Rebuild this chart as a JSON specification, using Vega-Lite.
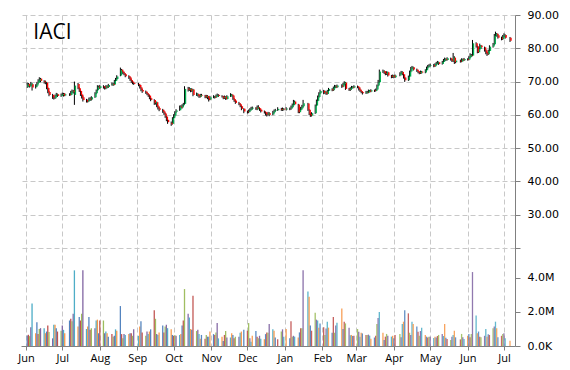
{
"$schema": "https://vega.github.io/schema/vega-lite/v6.json",
"width": 494, "height": 331,
"autosize": "none",
"padding": {"left": 21, "top": 15, "right": 55, "bottom": 24},
"background": "white",
"config": {"view": {"stroke": null}, "font": "DejaVu Sans"},
"data": {"values": [
{"date":"2014-06-02","open":68.4,"high":69.7,"low":68.1,"close":69.2,"volume":620000},
{"date":"2014-06-03","open":69.3,"high":69.6,"low":68.3,"close":68.6,"volume":660000},
{"date":"2014-06-04","open":68.5,"high":69.3,"low":68.2,"close":68.9,"volume":580000},
{"date":"2014-06-05","open":68.9,"high":69.9,"low":68.6,"close":69.4,"volume":1100000},
{"date":"2014-06-06","open":69.2,"high":69.5,"low":67.3,"close":68.2,"volume":2500000},
{"date":"2014-06-09","open":68.3,"high":69.2,"low":67.9,"close":68.8,"volume":750000},
{"date":"2014-06-10","open":68.8,"high":69.9,"low":68.5,"close":69.5,"volume":1400000},
{"date":"2014-06-11","open":69.6,"high":70.7,"low":69.3,"close":70.3,"volume":700000},
{"date":"2014-06-12","open":70.2,"high":71.3,"low":69.9,"close":70.8,"volume":1000000},
{"date":"2014-06-13","open":70.9,"high":71.1,"low":69.8,"close":70.2,"volume":1050000},
{"date":"2014-06-16","open":70.1,"high":70.4,"low":69.4,"close":69.8,"volume":1050000},
{"date":"2014-06-17","open":69.8,"high":70.3,"low":69.2,"close":69.9,"volume":750000},
{"date":"2014-06-18","open":69.7,"high":69.9,"low":67.7,"close":68.0,"volume":850000},
{"date":"2014-06-19","open":68.1,"high":68.3,"low":66.5,"close":66.8,"volume":1200000},
{"date":"2014-06-20","open":66.9,"high":67.2,"low":65.6,"close":66.0,"volume":820000},
{"date":"2014-06-23","open":66.0,"high":66.3,"low":64.8,"close":65.2,"volume":450000},
{"date":"2014-06-24","open":65.1,"high":65.6,"low":64.6,"close":65.0,"volume":1250000},
{"date":"2014-06-25","open":65.0,"high":66.1,"low":64.8,"close":65.8,"volume":1250000},
{"date":"2014-06-26","open":65.9,"high":66.6,"low":65.5,"close":66.2,"volume":1050000},
{"date":"2014-06-27","open":66.2,"high":66.4,"low":65.4,"close":65.7,"volume":850000},
{"date":"2014-06-30","open":65.7,"high":66.4,"low":65.4,"close":66.0,"volume":900000},
{"date":"2014-07-01","open":66.0,"high":66.7,"low":65.8,"close":66.3,"volume":1200000},
{"date":"2014-07-02","open":66.4,"high":66.6,"low":65.5,"close":65.8,"volume":950000},
{"date":"2014-07-03","open":65.8,"high":66.5,"low":65.6,"close":66.2,"volume":750000},
{"date":"2014-07-07","open":66.2,"high":66.5,"low":65.7,"close":66.0,"volume":1500000},
{"date":"2014-07-08","open":66.0,"high":67.2,"low":65.8,"close":66.8,"volume":1600000},
{"date":"2014-07-09","open":66.8,"high":67.6,"low":66.5,"close":67.2,"volume":1450000},
{"date":"2014-07-10","open":67.3,"high":67.5,"low":66.4,"close":66.8,"volume":1900000},
{"date":"2014-07-11","open":66.0,"high":70.0,"low":63.0,"close":68.8,"volume":4450000},
{"date":"2014-07-14","open":69.3,"high":69.6,"low":67.7,"close":68.0,"volume":1150000},
{"date":"2014-07-15","open":68.0,"high":68.3,"low":66.9,"close":67.2,"volume":1700000},
{"date":"2014-07-16","open":67.2,"high":67.4,"low":65.7,"close":66.0,"volume":1500000},
{"date":"2014-07-17","open":66.1,"high":66.3,"low":64.9,"close":65.2,"volume":1900000},
{"date":"2014-07-18","open":65.3,"high":65.8,"low":64.0,"close":64.5,"volume":4450000},
{"date":"2014-07-21","open":64.5,"high":64.8,"low":63.7,"close":64.0,"volume":1000000},
{"date":"2014-07-22","open":64.0,"high":64.6,"low":63.7,"close":64.3,"volume":1150000},
{"date":"2014-07-23","open":64.3,"high":65.2,"low":64.0,"close":64.8,"volume":1700000},
{"date":"2014-07-24","open":64.9,"high":65.3,"low":64.2,"close":64.6,"volume":950000},
{"date":"2014-07-25","open":64.6,"high":65.6,"low":64.3,"close":65.3,"volume":1050000},
{"date":"2014-07-28","open":65.3,"high":66.8,"low":65.1,"close":66.5,"volume":1050000},
{"date":"2014-07-29","open":66.5,"high":67.6,"low":66.2,"close":67.3,"volume":1500000},
{"date":"2014-07-30","open":67.4,"high":68.9,"low":67.2,"close":68.5,"volume":1550000},
{"date":"2014-07-31","open":68.5,"high":68.8,"low":67.8,"close":68.2,"volume":750000},
{"date":"2014-08-01","open":68.1,"high":69.0,"low":67.8,"close":68.6,"volume":1500000},
{"date":"2014-08-04","open":68.6,"high":68.9,"low":67.9,"close":68.3,"volume":1500000},
{"date":"2014-08-05","open":68.3,"high":68.6,"low":67.6,"close":68.0,"volume":750000},
{"date":"2014-08-06","open":68.0,"high":68.9,"low":67.7,"close":68.6,"volume":850000},
{"date":"2014-08-07","open":68.6,"high":68.9,"low":68.0,"close":68.4,"volume":750000},
{"date":"2014-08-08","open":68.4,"high":69.3,"low":68.1,"close":69.0,"volume":550000},
{"date":"2014-08-11","open":69.0,"high":69.7,"low":68.8,"close":69.3,"volume":700000},
{"date":"2014-08-12","open":69.3,"high":69.6,"low":68.7,"close":69.0,"volume":550000},
{"date":"2014-08-13","open":69.1,"high":70.5,"low":68.9,"close":70.2,"volume":600000},
{"date":"2014-08-14","open":70.2,"high":71.1,"low":70.0,"close":70.8,"volume":980000},
{"date":"2014-08-15","open":70.8,"high":71.9,"low":70.5,"close":71.5,"volume":900000},
{"date":"2014-08-18","open":71.8,"high":74.2,"low":71.6,"close":73.5,"volume":2350000},
{"date":"2014-08-19","open":73.6,"high":73.8,"low":72.6,"close":73.0,"volume":700000},
{"date":"2014-08-20","open":73.0,"high":73.3,"low":72.2,"close":72.6,"volume":450000},
{"date":"2014-08-21","open":72.6,"high":72.9,"low":71.9,"close":72.2,"volume":700000},
{"date":"2014-08-22","open":72.2,"high":72.4,"low":71.3,"close":71.6,"volume":650000},
{"date":"2014-08-25","open":71.7,"high":71.9,"low":70.8,"close":71.2,"volume":700000},
{"date":"2014-08-26","open":71.2,"high":71.4,"low":70.2,"close":70.5,"volume":750000},
{"date":"2014-08-27","open":70.5,"high":70.7,"low":69.6,"close":70.0,"volume":750000},
{"date":"2014-08-28","open":70.0,"high":70.2,"low":69.2,"close":69.6,"volume":600000},
{"date":"2014-08-29","open":69.6,"high":69.9,"low":69.0,"close":69.3,"volume":980000},
{"date":"2014-09-02","open":69.3,"high":69.6,"low":68.6,"close":69.0,"volume":600000},
{"date":"2014-09-03","open":69.0,"high":69.2,"low":67.9,"close":68.2,"volume":1150000},
{"date":"2014-09-04","open":68.2,"high":68.4,"low":67.1,"close":67.5,"volume":1450000},
{"date":"2014-09-05","open":67.5,"high":67.8,"low":66.6,"close":67.0,"volume":800000},
{"date":"2014-09-08","open":67.0,"high":67.3,"low":66.3,"close":66.6,"volume":600000},
{"date":"2014-09-09","open":66.6,"high":66.9,"low":65.9,"close":66.2,"volume":850000},
{"date":"2014-09-10","open":66.2,"high":66.4,"low":65.4,"close":65.8,"volume":700000},
{"date":"2014-09-11","open":65.8,"high":66.0,"low":64.7,"close":65.0,"volume":850000},
{"date":"2014-09-12","open":65.0,"high":65.3,"low":64.1,"close":64.5,"volume":980000},
{"date":"2014-09-15","open":64.5,"high":64.7,"low":63.0,"close":63.5,"volume":2100000},
{"date":"2014-09-16","open":63.4,"high":64.2,"low":63.1,"close":63.8,"volume":1600000},
{"date":"2014-09-17","open":63.8,"high":64.0,"low":62.3,"close":62.6,"volume":700000},
{"date":"2014-09-18","open":62.6,"high":62.9,"low":61.6,"close":62.0,"volume":650000},
{"date":"2014-09-19","open":62.0,"high":62.3,"low":61.1,"close":61.5,"volume":800000},
{"date":"2014-09-22","open":61.5,"high":61.8,"low":60.6,"close":61.0,"volume":1200000},
{"date":"2014-09-23","open":61.0,"high":61.2,"low":60.0,"close":60.4,"volume":800000},
{"date":"2014-09-24","open":60.4,"high":60.6,"low":59.1,"close":59.5,"volume":1150000},
{"date":"2014-09-25","open":59.5,"high":59.7,"low":58.1,"close":58.5,"volume":1250000},
{"date":"2014-09-26","open":58.5,"high":58.8,"low":57.3,"close":57.8,"volume":1050000},
{"date":"2014-09-29","open":57.6,"high":58.0,"low":56.7,"close":57.2,"volume":980000},
{"date":"2014-09-30","open":57.3,"high":59.3,"low":57.1,"close":59.0,"volume":650000},
{"date":"2014-10-01","open":59.0,"high":60.2,"low":58.7,"close":59.8,"volume":600000},
{"date":"2014-10-02","open":59.8,"high":61.1,"low":59.5,"close":60.8,"volume":630000},
{"date":"2014-10-03","open":60.9,"high":61.7,"low":60.6,"close":61.3,"volume":600000},
{"date":"2014-10-06","open":61.4,"high":62.8,"low":61.2,"close":62.4,"volume":650000},
{"date":"2014-10-07","open":62.5,"high":62.9,"low":61.9,"close":62.2,"volume":700000},
{"date":"2014-10-08","open":62.2,"high":63.2,"low":61.9,"close":62.8,"volume":1200000},
{"date":"2014-10-09","open":62.9,"high":63.6,"low":62.5,"close":63.2,"volume":1500000},
{"date":"2014-10-10","open":63.3,"high":68.6,"low":63.0,"close":67.8,"volume":3350000},
{"date":"2014-10-13","open":67.9,"high":68.4,"low":67.0,"close":67.5,"volume":1900000},
{"date":"2014-10-14","open":67.5,"high":68.3,"low":67.2,"close":67.9,"volume":1670000},
{"date":"2014-10-15","open":67.8,"high":68.0,"low":66.8,"close":67.2,"volume":1000000},
{"date":"2014-10-16","open":67.2,"high":68.0,"low":66.9,"close":67.6,"volume":950000},
{"date":"2014-10-17","open":67.6,"high":67.8,"low":65.6,"close":66.0,"volume":2950000},
{"date":"2014-10-20","open":66.0,"high":66.7,"low":65.7,"close":66.3,"volume":880000},
{"date":"2014-10-21","open":66.3,"high":66.5,"low":65.5,"close":65.8,"volume":950000},
{"date":"2014-10-22","open":65.8,"high":66.0,"low":65.1,"close":65.5,"volume":700000},
{"date":"2014-10-23","open":65.5,"high":66.3,"low":65.2,"close":66.0,"volume":430000},
{"date":"2014-10-24","open":66.0,"high":66.3,"low":65.5,"close":65.8,"volume":650000},
{"date":"2014-10-27","open":65.8,"high":66.0,"low":65.0,"close":65.3,"volume":420000},
{"date":"2014-10-28","open":65.3,"high":66.0,"low":65.0,"close":65.7,"volume":650000},
{"date":"2014-10-29","open":65.7,"high":65.9,"low":64.7,"close":65.0,"volume":550000},
{"date":"2014-10-30","open":65.0,"high":65.2,"low":64.0,"close":64.5,"volume":550000},
{"date":"2014-10-31","open":64.6,"high":65.7,"low":64.4,"close":65.3,"volume":850000},
{"date":"2014-11-03","open":65.3,"high":65.9,"low":65.0,"close":65.5,"volume":700000},
{"date":"2014-11-04","open":65.5,"high":65.7,"low":64.9,"close":65.2,"volume":650000},
{"date":"2014-11-05","open":65.3,"high":66.1,"low":65.1,"close":65.8,"volume":800000},
{"date":"2014-11-06","open":65.8,"high":66.4,"low":65.5,"close":66.0,"volume":1350000},
{"date":"2014-11-07","open":66.0,"high":66.2,"low":65.4,"close":65.7,"volume":450000},
{"date":"2014-11-10","open":65.7,"high":65.9,"low":65.2,"close":65.5,"volume":550000},
{"date":"2014-11-11","open":65.5,"high":65.7,"low":64.7,"close":65.0,"volume":300000},
{"date":"2014-11-12","open":65.0,"high":65.8,"low":64.8,"close":65.4,"volume":650000},
{"date":"2014-11-13","open":65.4,"high":65.6,"low":64.5,"close":64.8,"volume":880000},
{"date":"2014-11-14","open":64.8,"high":65.9,"low":64.6,"close":65.6,"volume":500000},
{"date":"2014-11-17","open":65.6,"high":66.5,"low":65.4,"close":66.1,"volume":500000},
{"date":"2014-11-18","open":66.1,"high":66.3,"low":65.5,"close":65.8,"volume":750000},
{"date":"2014-11-19","open":65.8,"high":66.0,"low":64.5,"close":64.8,"volume":650000},
{"date":"2014-11-20","open":64.8,"high":65.0,"low":63.9,"close":64.2,"volume":450000},
{"date":"2014-11-21","open":64.3,"high":64.5,"low":63.3,"close":63.6,"volume":550000},
{"date":"2014-11-24","open":63.6,"high":63.9,"low":62.9,"close":63.2,"volume":550000},
{"date":"2014-11-25","open":63.2,"high":63.4,"low":62.3,"close":62.6,"volume":780000},
{"date":"2014-11-26","open":62.6,"high":62.8,"low":61.4,"close":61.8,"volume":850000},
{"date":"2014-11-28","open":61.8,"high":62.0,"low":60.5,"close":61.0,"volume":950000},
{"date":"2014-12-01","open":61.0,"high":61.3,"low":60.4,"close":60.8,"volume":900000},
{"date":"2014-12-02","open":60.8,"high":61.6,"low":60.5,"close":61.2,"volume":1350000},
{"date":"2014-12-03","open":61.2,"high":62.0,"low":60.9,"close":61.6,"volume":450000},
{"date":"2014-12-04","open":61.6,"high":62.4,"low":61.4,"close":61.9,"volume":250000},
{"date":"2014-12-05","open":61.9,"high":62.5,"low":61.6,"close":62.1,"volume":600000},
{"date":"2014-12-08","open":62.1,"high":62.3,"low":61.5,"close":61.8,"volume":880000},
{"date":"2014-12-09","open":61.7,"high":62.8,"low":61.4,"close":62.3,"volume":550000},
{"date":"2014-12-10","open":62.3,"high":62.9,"low":61.7,"close":62.0,"volume":450000},
{"date":"2014-12-11","open":62.0,"high":62.2,"low":61.2,"close":61.5,"volume":600000},
{"date":"2014-12-12","open":61.5,"high":61.7,"low":60.7,"close":61.0,"volume":430000},
{"date":"2014-12-15","open":61.0,"high":61.3,"low":60.4,"close":60.8,"volume":400000},
{"date":"2014-12-16","open":60.8,"high":61.0,"low":59.8,"close":60.2,"volume":700000},
{"date":"2014-12-17","open":60.2,"high":60.6,"low":59.5,"close":60.0,"volume":800000},
{"date":"2014-12-18","open":60.0,"high":60.9,"low":59.8,"close":60.5,"volume":780000},
{"date":"2014-12-19","open":60.5,"high":60.8,"low":59.6,"close":60.0,"volume":1300000},
{"date":"2014-12-22","open":60.1,"high":61.2,"low":59.9,"close":60.8,"volume":980000},
{"date":"2014-12-23","open":60.8,"high":61.6,"low":60.5,"close":61.2,"volume":900000},
{"date":"2014-12-24","open":61.2,"high":61.8,"low":61.0,"close":61.4,"volume":500000},
{"date":"2014-12-26","open":61.4,"high":62.3,"low":61.2,"close":61.8,"volume":400000},
{"date":"2014-12-29","open":61.8,"high":62.1,"low":61.2,"close":61.5,"volume":850000},
{"date":"2014-12-30","open":61.5,"high":62.2,"low":61.2,"close":61.8,"volume":980000},
{"date":"2014-12-31","open":61.8,"high":62.0,"low":61.3,"close":61.6,"volume":550000},
{"date":"2015-01-02","open":61.6,"high":62.3,"low":61.3,"close":61.9,"volume":1000000},
{"date":"2015-01-05","open":61.9,"high":62.2,"low":61.4,"close":61.8,"volume":450000},
{"date":"2015-01-06","open":61.8,"high":62.8,"low":61.5,"close":62.3,"volume":1450000},
{"date":"2015-01-07","open":62.3,"high":63.4,"low":62.1,"close":63.0,"volume":550000},
{"date":"2015-01-08","open":63.0,"high":64.5,"low":62.8,"close":64.0,"volume":600000},
{"date":"2015-01-09","open":64.0,"high":64.3,"low":62.9,"close":63.2,"volume":550000},
{"date":"2015-01-12","open":63.1,"high":63.3,"low":60.5,"close":60.8,"volume":500000},
{"date":"2015-01-13","open":60.8,"high":61.9,"low":60.5,"close":61.5,"volume":800000},
{"date":"2015-01-14","open":61.5,"high":62.4,"low":61.2,"close":62.0,"volume":1050000},
{"date":"2015-01-15","open":62.0,"high":63.0,"low":61.7,"close":62.6,"volume":1050000},
{"date":"2015-01-16","open":62.6,"high":64.5,"low":62.3,"close":63.5,"volume":4450000},
{"date":"2015-01-20","open":63.4,"high":63.6,"low":61.2,"close":61.5,"volume":3200000},
{"date":"2015-01-21","open":61.5,"high":61.7,"low":59.9,"close":60.2,"volume":2900000},
{"date":"2015-01-22","open":60.2,"high":60.5,"low":59.4,"close":59.8,"volume":1200000},
{"date":"2015-01-23","open":59.8,"high":60.8,"low":59.5,"close":60.5,"volume":900000},
{"date":"2015-01-26","open":60.5,"high":63.1,"low":60.3,"close":62.8,"volume":1950000},
{"date":"2015-01-27","open":62.8,"high":64.6,"low":62.6,"close":64.2,"volume":1550000},
{"date":"2015-01-28","open":64.2,"high":65.8,"low":64.0,"close":65.4,"volume":1500000},
{"date":"2015-01-29","open":65.4,"high":66.8,"low":65.1,"close":66.5,"volume":1080000},
{"date":"2015-01-30","open":66.5,"high":67.6,"low":66.2,"close":67.2,"volume":1330000},
{"date":"2015-02-02","open":67.2,"high":67.5,"low":66.2,"close":66.6,"volume":1100000},
{"date":"2015-02-03","open":66.6,"high":67.3,"low":66.3,"close":66.9,"volume":650000},
{"date":"2015-02-04","open":66.9,"high":67.1,"low":66.0,"close":66.3,"volume":1030000},
{"date":"2015-02-05","open":66.3,"high":67.5,"low":66.1,"close":67.2,"volume":1430000},
{"date":"2015-02-06","open":67.2,"high":68.1,"low":66.9,"close":67.8,"volume":1080000},
{"date":"2015-02-09","open":67.8,"high":68.0,"low":67.1,"close":67.4,"volume":780000},
{"date":"2015-02-10","open":67.4,"high":68.5,"low":67.2,"close":68.2,"volume":1700000},
{"date":"2015-02-11","open":68.2,"high":69.0,"low":67.9,"close":68.6,"volume":780000},
{"date":"2015-02-12","open":68.6,"high":68.9,"low":68.0,"close":68.3,"volume":1200000},
{"date":"2015-02-13","open":68.3,"high":69.1,"low":68.1,"close":68.8,"volume":1370000},
{"date":"2015-02-17","open":68.8,"high":69.2,"low":68.1,"close":68.5,"volume":2200000},
{"date":"2015-02-18","open":68.5,"high":69.6,"low":68.3,"close":69.3,"volume":1000000},
{"date":"2015-02-19","open":69.3,"high":70.1,"low":69.0,"close":69.7,"volume":1430000},
{"date":"2015-02-20","open":69.7,"high":69.9,"low":67.5,"close":67.8,"volume":1330000},
{"date":"2015-02-23","open":67.8,"high":68.1,"low":67.2,"close":67.5,"volume":1080000},
{"date":"2015-02-24","open":67.5,"high":68.3,"low":67.2,"close":68.0,"volume":630000},
{"date":"2015-02-25","open":68.0,"high":68.7,"low":67.8,"close":68.4,"volume":650000},
{"date":"2015-02-26","open":68.4,"high":68.6,"low":67.9,"close":68.2,"volume":590000},
{"date":"2015-02-27","open":68.2,"high":68.9,"low":68.0,"close":68.6,"volume":610000},
{"date":"2015-03-02","open":68.6,"high":68.8,"low":68.0,"close":68.3,"volume":1000000},
{"date":"2015-03-03","open":68.3,"high":68.5,"low":67.3,"close":67.6,"volume":840000},
{"date":"2015-03-04","open":67.6,"high":67.9,"low":66.9,"close":67.2,"volume":550000},
{"date":"2015-03-05","open":67.2,"high":67.4,"low":66.5,"close":66.8,"volume":780000},
{"date":"2015-03-06","open":66.8,"high":67.0,"low":66.1,"close":66.5,"volume":740000},
{"date":"2015-03-09","open":66.5,"high":67.2,"low":66.3,"close":66.9,"volume":650000},
{"date":"2015-03-10","open":66.9,"high":67.2,"low":66.4,"close":66.7,"volume":650000},
{"date":"2015-03-11","open":66.7,"high":67.6,"low":66.5,"close":67.3,"volume":670000},
{"date":"2015-03-12","open":67.3,"high":67.5,"low":66.8,"close":67.0,"volume":610000},
{"date":"2015-03-13","open":67.0,"high":67.7,"low":66.8,"close":67.4,"volume":430000},
{"date":"2015-03-16","open":67.4,"high":67.6,"low":66.9,"close":67.2,"volume":500000},
{"date":"2015-03-17","open":67.2,"high":67.9,"low":67.0,"close":67.6,"volume":600000},
{"date":"2015-03-18","open":67.6,"high":69.1,"low":67.4,"close":68.8,"volume":1290000},
{"date":"2015-03-19","open":68.8,"high":70.5,"low":68.6,"close":69.8,"volume":1650000},
{"date":"2015-03-20","open":69.8,"high":73.6,"low":69.6,"close":73.0,"volume":2000000},
{"date":"2015-03-23","open":73.0,"high":73.6,"low":72.6,"close":73.2,"volume":780000},
{"date":"2015-03-24","open":73.2,"high":73.4,"low":72.3,"close":72.6,"volume":350000},
{"date":"2015-03-25","open":72.6,"high":72.9,"low":71.9,"close":72.3,"volume":550000},
{"date":"2015-03-26","open":72.3,"high":73.1,"low":72.0,"close":72.8,"volume":710000},
{"date":"2015-03-27","open":72.8,"high":73.0,"low":71.5,"close":71.8,"volume":610000},
{"date":"2015-03-30","open":71.8,"high":72.0,"low":71.0,"close":71.4,"volume":550000},
{"date":"2015-03-31","open":71.4,"high":72.1,"low":71.1,"close":71.8,"volume":600000},
{"date":"2015-04-01","open":71.8,"high":72.0,"low":71.0,"close":71.3,"volume":450000},
{"date":"2015-04-02","open":71.3,"high":72.1,"low":71.1,"close":71.8,"volume":650000},
{"date":"2015-04-06","open":71.8,"high":72.8,"low":71.6,"close":72.5,"volume":710000},
{"date":"2015-04-07","open":72.5,"high":73.2,"low":72.2,"close":72.9,"volume":510000},
{"date":"2015-04-08","open":72.9,"high":73.1,"low":71.9,"close":72.2,"volume":1290000},
{"date":"2015-04-09","open":72.2,"high":72.4,"low":70.9,"close":71.2,"volume":1430000},
{"date":"2015-04-10","open":71.2,"high":71.4,"low":69.9,"close":70.4,"volume":2100000},
{"date":"2015-04-13","open":70.4,"high":71.8,"low":70.2,"close":71.5,"volume":1920000},
{"date":"2015-04-14","open":71.5,"high":73.3,"low":71.3,"close":73.0,"volume":780000},
{"date":"2015-04-15","open":73.0,"high":74.4,"low":72.8,"close":74.0,"volume":650000},
{"date":"2015-04-16","open":74.0,"high":74.7,"low":73.8,"close":74.3,"volume":1430000},
{"date":"2015-04-17","open":74.3,"high":74.5,"low":73.3,"close":73.6,"volume":1290000},
{"date":"2015-04-20","open":73.6,"high":73.9,"low":72.9,"close":73.2,"volume":1140000},
{"date":"2015-04-21","open":73.2,"high":73.4,"low":72.5,"close":72.8,"volume":840000},
{"date":"2015-04-22","open":72.8,"high":73.0,"low":72.2,"close":72.5,"volume":600000},
{"date":"2015-04-23","open":72.5,"high":73.3,"low":72.3,"close":73.0,"volume":880000},
{"date":"2015-04-24","open":73.0,"high":73.2,"low":72.4,"close":72.7,"volume":1080000},
{"date":"2015-04-27","open":72.7,"high":73.7,"low":72.5,"close":73.4,"volume":650000},
{"date":"2015-04-28","open":73.4,"high":74.5,"low":73.2,"close":74.2,"volume":550000},
{"date":"2015-04-29","open":74.2,"high":75.0,"low":73.9,"close":74.6,"volume":500000},
{"date":"2015-04-30","open":74.6,"high":75.2,"low":74.3,"close":74.8,"volume":550000},
{"date":"2015-05-01","open":74.8,"high":75.4,"low":74.5,"close":75.0,"volume":550000},
{"date":"2015-05-04","open":75.0,"high":75.3,"low":74.3,"close":74.6,"volume":470000},
{"date":"2015-05-05","open":74.6,"high":75.5,"low":74.4,"close":75.2,"volume":550000},
{"date":"2015-05-06","open":75.2,"high":75.9,"low":74.9,"close":75.5,"volume":500000},
{"date":"2015-05-07","open":75.5,"high":76.2,"low":75.2,"close":75.8,"volume":590000},
{"date":"2015-05-08","open":75.8,"high":76.0,"low":75.0,"close":75.3,"volume":650000},
{"date":"2015-05-11","open":75.3,"high":76.2,"low":75.1,"close":75.9,"volume":710000},
{"date":"2015-05-12","open":75.9,"high":76.8,"low":75.6,"close":76.4,"volume":590000},
{"date":"2015-05-13","open":76.4,"high":77.2,"low":76.1,"close":76.8,"volume":1290000},
{"date":"2015-05-14","open":76.8,"high":77.0,"low":76.2,"close":76.5,"volume":490000},
{"date":"2015-05-15","open":76.5,"high":77.3,"low":76.3,"close":77.0,"volume":410000},
{"date":"2015-05-18","open":77.0,"high":77.2,"low":76.3,"close":76.6,"volume":350000},
{"date":"2015-05-19","open":76.6,"high":76.8,"low":75.9,"close":76.2,"volume":550000},
{"date":"2015-05-20","open":76.2,"high":78.6,"low":75.9,"close":77.2,"volume":650000},
{"date":"2015-05-21","open":77.2,"high":77.6,"low":75.3,"close":75.8,"volume":900000},
{"date":"2015-05-22","open":75.8,"high":76.6,"low":75.5,"close":76.3,"volume":510000},
{"date":"2015-05-26","open":76.3,"high":76.6,"low":75.7,"close":76.0,"volume":390000},
{"date":"2015-05-27","open":76.0,"high":77.0,"low":75.8,"close":76.7,"volume":710000},
{"date":"2015-05-28","open":76.7,"high":76.9,"low":76.1,"close":76.4,"volume":510000},
{"date":"2015-05-29","open":76.4,"high":77.1,"low":76.2,"close":76.8,"volume":410000},
{"date":"2015-06-01","open":76.8,"high":77.0,"low":76.3,"close":76.6,"volume":600000},
{"date":"2015-06-02","open":76.6,"high":77.6,"low":76.4,"close":77.3,"volume":710000},
{"date":"2015-06-03","open":77.3,"high":78.5,"low":77.1,"close":78.0,"volume":510000},
{"date":"2015-06-04","open":78.0,"high":78.3,"low":77.4,"close":77.8,"volume":700000},
{"date":"2015-06-05","open":77.8,"high":82.5,"low":77.6,"close":81.5,"volume":4350000},
{"date":"2015-06-08","open":81.5,"high":81.8,"low":80.2,"close":80.6,"volume":1800000},
{"date":"2015-06-09","open":80.6,"high":80.8,"low":78.5,"close":78.8,"volume":750000},
{"date":"2015-06-10","open":78.8,"high":80.2,"low":78.6,"close":79.8,"volume":850000},
{"date":"2015-06-11","open":79.8,"high":81.4,"low":79.5,"close":80.8,"volume":550000},
{"date":"2015-06-12","open":80.8,"high":81.0,"low":79.9,"close":80.3,"volume":510000},
{"date":"2015-06-15","open":80.3,"high":80.5,"low":79.0,"close":79.4,"volume":600000},
{"date":"2015-06-16","open":79.4,"high":79.7,"low":78.2,"close":78.6,"volume":1000000},
{"date":"2015-06-17","open":78.6,"high":78.9,"low":77.7,"close":78.2,"volume":550000},
{"date":"2015-06-18","open":78.2,"high":79.6,"low":78.0,"close":79.2,"volume":690000},
{"date":"2015-06-19","open":79.2,"high":80.9,"low":79.0,"close":80.5,"volume":650000},
{"date":"2015-06-22","open":80.5,"high":81.6,"low":80.2,"close":81.2,"volume":1040000},
{"date":"2015-06-23","open":81.2,"high":84.3,"low":81.0,"close":83.8,"volume":1140000},
{"date":"2015-06-24","open":83.8,"high":85.0,"low":83.5,"close":84.4,"volume":1430000},
{"date":"2015-06-25","open":84.4,"high":84.6,"low":83.5,"close":83.9,"volume":1040000},
{"date":"2015-06-26","open":83.9,"high":84.3,"low":82.9,"close":83.2,"volume":510000},
{"date":"2015-06-29","open":83.2,"high":83.5,"low":82.4,"close":82.8,"volume":600000},
{"date":"2015-06-30","open":82.8,"high":84.0,"low":82.5,"close":83.6,"volume":710000},
{"date":"2015-07-01","open":83.6,"high":84.5,"low":83.3,"close":84.0,"volume":750000},
{"date":"2015-07-02","open":84.0,"high":84.2,"low":82.9,"close":83.2,"volume":450000},
{"date":"2015-07-06","open":83.2,"high":83.4,"low":81.9,"close":82.3,"volume":310000}
]},
"encoding": {
  "x": {"field": "date", "type": "temporal",
    "scale": {"type": "utc", "domain": [{"year":2014,"month":6,"date":1,"utc":true},{"year":2015,"month":7,"date":6,"utc":true}]},
    "axis": {"title": null,
      "values": [{"year":2014,"month":6,"date":1,"utc":true},{"year":2014,"month":7,"date":1,"utc":true},{"year":2014,"month":8,"date":1,"utc":true},{"year":2014,"month":9,"date":1,"utc":true},{"year":2014,"month":10,"date":1,"utc":true},{"year":2014,"month":11,"date":1,"utc":true},{"year":2014,"month":12,"date":1,"utc":true},{"year":2015,"month":1,"date":1,"utc":true},{"year":2015,"month":2,"date":1,"utc":true},{"year":2015,"month":3,"date":1,"utc":true},{"year":2015,"month":4,"date":1,"utc":true},{"year":2015,"month":5,"date":1,"utc":true},{"year":2015,"month":6,"date":1,"utc":true},{"year":2015,"month":7,"date":1,"utc":true}],
      "labelExpr": "utcFormat(datum.value, '%b')",
      "grid": true, "gridDash": [5, 3], "gridColor": "#C8C8C8", "gridWidth": 1,
      "domainColor": "#808080", "tickColor": "#808080", "tickSize": 4,
      "labelFont": "Open Sans", "labelFontSize": 11, "labelColor": "#000",
      "labelFlush": false, "labelOverlap": false, "labelPadding": 2}}
},
"layer": [
  {"layer": [
    {"mark": {"type": "rule", "color": "#000", "strokeWidth": 1},
     "encoding": {
       "y": {"field": "low", "type": "quantitative",
         "scale": {"domain": [-9.44, 90], "nice": false, "zero": false},
         "axis": {"orient": "right", "title": null, "values": [20,30,40,50,60,70,80,90],
           "labelExpr": "datum.value == 20 ? '' : format(datum.value, '.2f')",
           "grid": true, "gridDash": [5, 3], "gridColor": "#C8C8C8",
           "domainColor": "#808080", "tickColor": "#808080", "tickSize": 5, "labelPadding": 7,
           "labelFont": "DejaVu Sans", "labelFontSize": 11, "labelColor": "#000"}},
       "y2": {"field": "high"}}},
    {"mark": {"type": "bar", "size": 1.4, "xOffset": 1},
     "encoding": {
       "y": {"field": "open", "type": "quantitative"},
       "y2": {"field": "close"},
       "color": {"condition": {"test": "datum.close >= datum.open", "value": "#00B050"}, "value": "#FF0000"}}},
    {"data": {"values": [{"ticker": "IACI", "date": "2014-06-07", "level": 82.8}]},
     "mark": {"type": "text", "align": "left", "baseline": "alphabetic", "font": "Open Sans", "fontSize": 21, "color": "#000"},
     "encoding": {
       "y": {"field": "level", "type": "quantitative"},
       "text": {"field": "ticker"}}}
  ]},
  {"mark": {"type": "bar", "size": 1.3},
   "encoding": {
     "y": {"field": "volume", "type": "quantitative",
       "scale": {"domain": [0, 19470000], "nice": false},
       "axis": {"orient": "right", "title": null, "values": [0, 2000000, 4000000],
         "labelExpr": "datum.value == 0 ? '0.0K' : format(datum.value / 1000000, '.1f') + 'M'",
         "grid": false, "domain": false, "tickColor": "#808080", "tickSize": 5, "labelPadding": 7,
         "labelFont": "DejaVu Sans", "labelFontSize": 11, "labelColor": "#000"}},
     "color": {"field": "date", "type": "ordinal", "legend": null,
       "scale": {"range": ["#4F81BD", "#C0504D", "#9BBB59", "#8064A2", "#4BACC6", "#F79646"]}},
     "opacity": {"field": "date", "type": "temporal", "legend": null,
       "scale": {"type": "utc", "domain": [{"year":2014,"month":6,"date":1,"utc":true},{"year":2014,"month":12,"date":15,"utc":true},{"year":2015,"month":7,"date":6,"utc":true}], "range": [1, 0.85, 0.35]}}}}
],
"resolve": {"scale": {"y": "independent"}, "axis": {"y": "independent"}}
}
